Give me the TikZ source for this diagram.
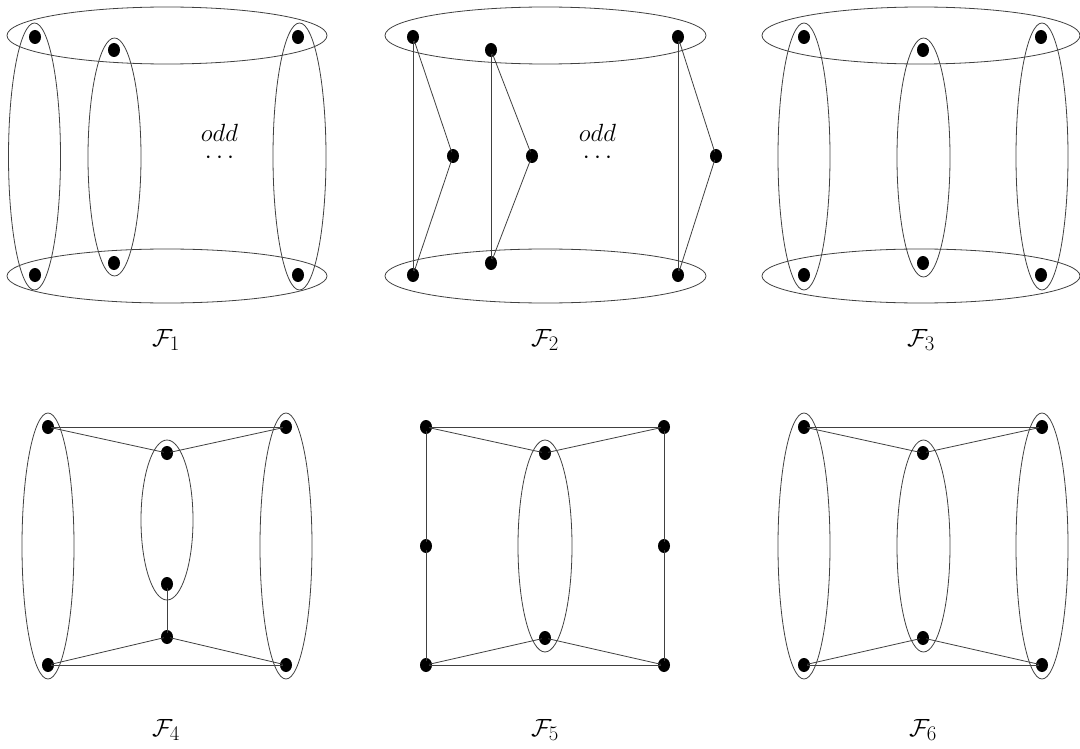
\documentclass[tikz,border=0pt]{standalone}
\usetikzlibrary{shapes.geometric}
\tikzset{
  dot/.style={ellipse,fill=black,draw=none,minimum width=12pt,minimum height=14pt,inner sep=0pt},
  hyper/.style={draw=black!75,line width=0.8pt},
  edge/.style={draw=black!75,line width=0.8pt,shorten <=-3pt,shorten >=-3pt},
  lab/.style={font=\fontsize{30}{36}\selectfont,inner sep=0pt},
  txt/.style={font=\fontsize{28}{34}\selectfont,inner sep=0pt,align=center,anchor=base}
}
\begin{document}
\begin{tikzpicture}[x=1pt,y=-1pt]
\useasboundingbox (0,0) rectangle (1080,749);
% ---------- F1 ----------
\draw[hyper] (167,35.5) ellipse [x radius=160,y radius=28.5];
\draw[hyper] (167,276) ellipse [x radius=160,y radius=27];
\draw[hyper] (34.5,156.5) ellipse [x radius=26,y radius=133.5];
\draw[hyper] (114.5,157) ellipse [x radius=26.5,y radius=119];
\draw[hyper] (299.5,156.5) ellipse [x radius=26.5,y radius=133.5];
\node[dot] (a1) at (35,37) {};
\node[dot] (a2) at (114,50) {};
\node[dot] (a3) at (298,37) {};
\node[dot] (a4) at (35,275) {};
\node[dot] (a5) at (114,263) {};
\node[dot] (a6) at (298,275) {};
\node[txt] (odd1) at (219.5,164) {$odd$\\[-12pt]$\cdots$};
\node[lab] (L1) at (166,340) {$\mathcal{F}_1$};
% ---------- F2 ----------
\draw[hyper] (545.5,35.5) ellipse [x radius=160.5,y radius=28.5];
\draw[hyper] (545.5,276) ellipse [x radius=160.5,y radius=27];
\node[dot] (b1) at (413,37) {};
\node[dot] (b2) at (491,50) {};
\node[dot] (b3) at (678,37) {};
\node[dot] (b4) at (453,156) {};
\node[dot] (b5) at (532,156) {};
\node[dot] (b6) at (716,156) {};
\node[dot] (b7) at (413,275) {};
\node[dot] (b8) at (491,263) {};
\node[dot] (b9) at (678,275) {};
\draw[edge] (b1) -- (b7);
\draw[edge] (b2) -- (b8);
\draw[edge] (b3) -- (b9);
\draw[edge] (b1) -- (b4);
\draw[edge] (b4) -- (b7);
\draw[edge] (b2) -- (b5);
\draw[edge] (b5) -- (b8);
\draw[edge] (b3) -- (b6);
\draw[edge] (b6) -- (b9);
\node[txt] (odd2) at (597.5,164) {$odd$\\[-12pt]$\cdots$};
\node[lab] (L2) at (545,340) {$\mathcal{F}_2$};
% ---------- F3 ----------
\draw[hyper] (921,35.5) ellipse [x radius=159,y radius=28.5];
\draw[hyper] (921,276) ellipse [x radius=159,y radius=27];
\draw[hyper] (804,156.5) ellipse [x radius=26,y radius=133.5];
\draw[hyper] (923.5,157.5) ellipse [x radius=26.5,y radius=119.5];
\draw[hyper] (1042,156.5) ellipse [x radius=26,y radius=133.5];
\node[dot] (c1) at (804,37) {};
\node[dot] (c2) at (923,50) {};
\node[dot] (c3) at (1041,37) {};
\node[dot] (c4) at (804,275) {};
\node[dot] (c5) at (923,263) {};
\node[dot] (c6) at (1041,275) {};
\node[lab] (L3) at (921,340) {$\mathcal{F}_3$};
% ---------- F4 ----------
\draw[hyper] (48,546) ellipse [x radius=26,y radius=133];
\draw[hyper] (286,546) ellipse [x radius=26,y radius=133];
\draw[hyper] (167,520) ellipse [x radius=26,y radius=80];
\node[dot] (d1) at (48,427) {};
\node[dot] (d2) at (286,427) {};
\node[dot] (d3) at (167,453) {};
\node[dot] (d4) at (167,584) {};
\node[dot] (d5) at (167,637) {};
\node[dot] (d6) at (48,665) {};
\node[dot] (d7) at (286,665) {};
\draw[edge] (d1) -- (d2);
\draw[edge] (d1) -- (d3);
\draw[edge] (d3) -- (d2);
\draw[edge] (d4) -- (d5);
\draw[edge] (d6) -- (d5);
\draw[edge] (d5) -- (d7);
\draw[edge] (d6) -- (d7);
\node[lab] (L4) at (166,730) {$\mathcal{F}_4$};
% ---------- F5 ----------
\draw[hyper] (545,546) ellipse [x radius=27,y radius=106];
\node[dot] (e1) at (426,427) {};
\node[dot] (e2) at (664,427) {};
\node[dot] (e3) at (545,453) {};
\node[dot] (e4) at (426,546) {};
\node[dot] (e5) at (664,546) {};
\node[dot] (e6) at (545,638) {};
\node[dot] (e7) at (426,665) {};
\node[dot] (e8) at (664,665) {};
\draw[edge] (e1) -- (e2);
\draw[edge] (e1) -- (e3);
\draw[edge] (e3) -- (e2);
\draw[edge] (e1) -- (e4);
\draw[edge] (e4) -- (e7);
\draw[edge] (e2) -- (e5);
\draw[edge] (e5) -- (e8);
\draw[edge] (e7) -- (e6);
\draw[edge] (e6) -- (e8);
\draw[edge] (e7) -- (e8);
\node[lab] (L5) at (545,730) {$\mathcal{F}_5$};
% ---------- F6 ----------
\draw[hyper] (804,546) ellipse [x radius=26,y radius=133];
\draw[hyper] (923.5,546) ellipse [x radius=26.5,y radius=106];
\draw[hyper] (1042,546) ellipse [x radius=26,y radius=133];
\node[dot] (f1) at (804,427) {};
\node[dot] (f2) at (1042,427) {};
\node[dot] (f3) at (923,453) {};
\node[dot] (f4) at (923,638) {};
\node[dot] (f5) at (804,665) {};
\node[dot] (f6) at (1042,665) {};
\draw[edge] (f1) -- (f2);
\draw[edge] (f1) -- (f3);
\draw[edge] (f3) -- (f2);
\draw[edge] (f5) -- (f4);
\draw[edge] (f4) -- (f6);
\draw[edge] (f5) -- (f6);
\node[lab] (L6) at (923,730) {$\mathcal{F}_6$};
\end{tikzpicture}
\end{document}
